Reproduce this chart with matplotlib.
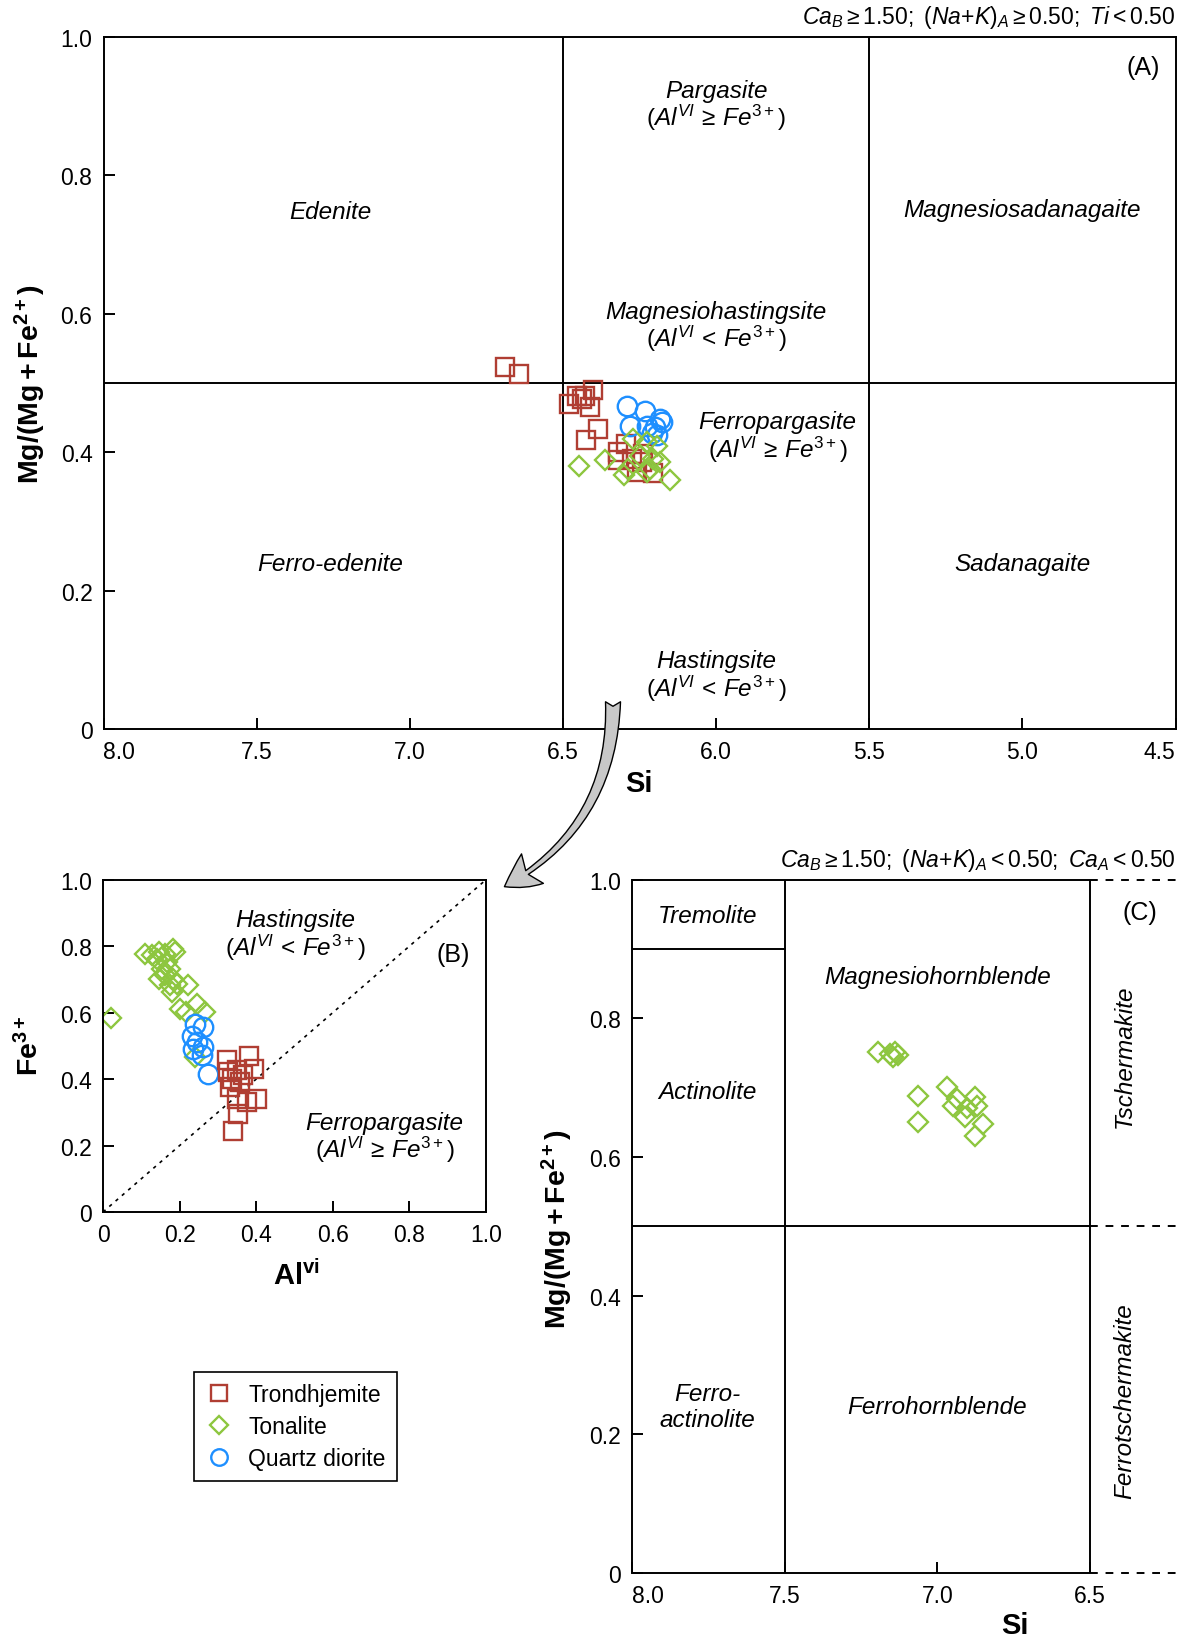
import matplotlib
matplotlib.use('Agg')
import matplotlib.pyplot as plt
from matplotlib.patches import FancyArrowPatch

plt.rcParams['font.family'] = ['Liberation Sans', 'DejaVu Sans']
plt.rcParams['mathtext.fontset'] = 'custom'
plt.rcParams['mathtext.rm'] = 'Liberation Sans'
plt.rcParams['mathtext.it'] = 'Liberation Sans:italic'
plt.rcParams['mathtext.bf'] = 'Liberation Sans:bold'

# ---------------- data ----------------
# Panel A : Si vs Mg/(Mg+Fe2+)
trond_A_si = [6.69, 6.644, 6.455, 6.428, 6.401, 6.48, 6.412, 6.439, 6.385, 6.426,
              6.319, 6.294, 6.319, 6.276, 6.243, 6.259, 6.207, 6.238]
trond_A_mg = [0.523, 0.513, 0.481, 0.481, 0.489, 0.470, 0.465, 0.477, 0.433, 0.417,
              0.400, 0.412, 0.388, 0.390, 0.385, 0.371, 0.370, 0.397]
ton_A_si = [6.447, 6.363, 6.300, 6.151, 6.194, 6.227, 6.248, 6.205, 6.270, 6.216,
            6.183, 6.287, 6.227]
ton_A_mg = [0.380, 0.389, 0.367, 0.359, 0.409, 0.414, 0.395, 0.390, 0.419, 0.376,
            0.385, 0.376, 0.371]
qd_A_si = [6.292, 6.232, 6.281, 6.183, 6.227, 6.200, 6.210, 6.178, 6.194]
qd_A_mg = [0.467, 0.460, 0.437, 0.448, 0.437, 0.436, 0.428, 0.443, 0.424]

# Panel B : Al(VI) vs Fe3+
trond_B_al = [0.325, 0.380, 0.393, 0.327, 0.349, 0.336, 0.366, 0.358, 0.332, 0.349,
              0.401, 0.375, 0.353, 0.340]
trond_B_fe = [0.456, 0.469, 0.431, 0.421, 0.426, 0.401, 0.411, 0.391, 0.376, 0.340,
              0.340, 0.330, 0.295, 0.245]
ton_B_al = [0.020, 0.110, 0.127, 0.145, 0.162, 0.184, 0.188, 0.140, 0.166, 0.153,
            0.175, 0.162, 0.145, 0.184, 0.175, 0.192, 0.223, 0.179, 0.201, 0.245,
            0.266, 0.218, 0.240]
ton_B_fe = [0.583, 0.777, 0.772, 0.782, 0.777, 0.792, 0.782, 0.762, 0.752, 0.732,
            0.732, 0.712, 0.702, 0.702, 0.682, 0.687, 0.682, 0.662, 0.611, 0.627,
            0.601, 0.601, 0.466]
qd_B_al = [0.240, 0.262, 0.245, 0.262, 0.236, 0.258, 0.275, 0.232]
qd_B_fe = [0.566, 0.556, 0.511, 0.496, 0.491, 0.471, 0.416, 0.531]

# Panel C : Si vs Mg/(Mg+Fe2+)
ton_C_si = [7.193, 7.155, 7.138, 7.128, 7.144, 7.064, 7.064, 6.967, 6.950, 6.937,
            6.909, 6.877, 6.871, 6.849, 6.877, 6.904]
ton_C_mg = [0.751, 0.749, 0.751, 0.747, 0.744, 0.688, 0.650, 0.701, 0.673, 0.684,
            0.658, 0.686, 0.674, 0.648, 0.631, 0.670]

series_names = ['Trondhjemite', 'Tonalite', 'Quartz diorite']
si_ticks_A = [8.0, 7.5, 7.0, 6.5, 6.0, 5.5, 5.0, 4.5]
si_ticks_C = [8.0, 7.5, 7.0, 6.5]
frac_ticks = [0, 0.2, 0.4, 0.6, 0.8, 1.0]
frac_labels = ['0', '0.2', '0.4', '0.6', '0.8', '1.0']

RED = '#B03E33'
GREEN = '#8DC63F'
BLUE = '#1E8FFF'

W, H = 1184, 1640
fig = plt.figure(figsize=(W / 100, H / 100), dpi=100)


def ax_at(l, t, r, b):
    return fig.add_axes([l / W, 1 - b / H, (r - l) / W, (b - t) / H])


LW = 1.4
TICK_FS = 16.5
REG_FS = 17.5

sq = dict(marker='s', ms=13, mfc='none', mec=RED, mew=1.7, ls='none')
di = dict(marker='D', ms=10.5, mfc='none', mec=GREEN, mew=1.7, ls='none')
ci = dict(marker='o', ms=14, mfc='none', mec=BLUE, mew=1.7, ls='none')

GE = r'$\mathit{(Al^{VI}\,{\geq}\,Fe^{3+})}$'
LT = r'$\mathit{(Al^{VI}\,{<}\,Fe^{3+})}$'


def style(ax):
    for s in ax.spines.values():
        s.set_linewidth(LW)
    ax.tick_params(direction='in', length=8, width=LW, labelsize=TICK_FS, pad=8)


def label(ax, x, y, txt, **kw):
    ax.text(x, y, txt, style='italic', fontsize=REG_FS, ha='center', va='center', **kw)


def two_line(ax, x, y, l1, l2, sep=19.5):
    ax.annotate(l1, (x, y), xytext=(0, sep / 2), textcoords='offset points',
                style='italic', fontsize=REG_FS, ha='center', va='center')
    ax.annotate(l2, (x, y), xytext=(0, -sep / 2), textcoords='offset points',
                style='italic', fontsize=REG_FS, ha='center', va='center')


# ---------------- Panel A ----------------
axA = ax_at(103.5, 37.7, 1175.6, 730)
style(axA)
axA.set_xlim(8.0, 4.5)
axA.set_ylim(0, 1)
axA.set_xticks(si_ticks_A, ['%.1f' % v for v in si_ticks_A])
axA.set_yticks(frac_ticks, frac_labels)
tk = axA.xaxis.get_major_ticks()
tk[0].label1.set_horizontalalignment('left')
tk[-1].label1.set_horizontalalignment('right')
axA.axvline(6.5, color='black', lw=LW)
axA.axvline(5.5, color='black', lw=LW)
axA.axhline(0.5, color='black', lw=LW)
axA.plot(trond_A_si, trond_A_mg, **sq)
axA.plot(qd_A_si, qd_A_mg, **ci)
axA.plot(ton_A_si, ton_A_mg, **di)

label(axA, 7.26, 0.747, 'Edenite')
label(axA, 7.26, 0.239, 'Ferro-edenite')
two_line(axA, 6.0, 0.903, 'Pargasite', GE)
two_line(axA, 6.0, 0.584, 'Magnesiohastingsite', LT)
two_line(axA, 5.80, 0.424, 'Ferropargasite', GE)
two_line(axA, 6.0, 0.079, 'Hastingsite', LT)
label(axA, 5.0, 0.750, 'Magnesiosadanagaite')
label(axA, 5.0, 0.239, 'Sadanagaite')
axA.text(4.606, 0.956, '(A)', fontsize=18, ha='center', va='center')
axA.text(1.0, 1.01, r'$\mathit{Ca_{B}{\geq}1.50;\ (Na{+}K)_{A}{\geq}0.50;\ Ti{<}0.50}$',
         transform=axA.transAxes, ha='right', va='bottom', fontsize=16.5)

fig.text(639 / W, 1 - 784 / H, 'Si', fontsize=21, fontweight='bold', ha='center', va='center')
fig.text(30 / W, 1 - 384 / H, r'$\mathbf{Mg/(Mg+Fe^{2+})}$', fontsize=20.5, rotation=90,
         ha='center', va='center')

# ---------------- Panel B ----------------
axB = ax_at(103, 880.7, 486, 1213)
style(axB)
axB.set_xlim(0, 1)
axB.set_ylim(0, 1)
axB.set_xticks(frac_ticks, frac_labels)
axB.set_yticks(frac_ticks, frac_labels)
axB.plot([0, 1], [0, 1], color='black', lw=1.2, ls=(0, (2, 3)))
axB.plot(ton_B_al, ton_B_fe, **di)
axB.plot(qd_B_al, qd_B_fe, **ci)
axB.plot(trond_B_al, trond_B_fe, **sq)
two_line(axB, 0.503, 0.84, 'Hastingsite', LT)
two_line(axB, 0.735, 0.23, 'Ferropargasite', GE)
axB.text(0.915, 0.777, '(B)', fontsize=18, ha='center', va='center')
fig.text(296 / W, 1 - 1276 / H, r'$\mathbf{Al^{vi}}$', fontsize=21, ha='center', va='center')
fig.text(30 / W, 1 - 1046 / H, r'$\mathbf{Fe^{3+}}$', fontsize=20.5, rotation=90,
         ha='center', va='center')

# ---------------- Panel C ----------------
axC = ax_at(631.8, 880.7, 1175.6, 1574)
style(axC)
axC.set_xlim(8.0, 6.22)
axC.set_ylim(0, 1)
axC.set_xticks(si_ticks_C, ['%.1f' % v for v in si_ticks_C])
axC.set_yticks(frac_ticks, frac_labels)
axC.xaxis.get_major_ticks()[0].label1.set_horizontalalignment('left')
for s in ['top', 'right', 'bottom']:
    axC.spines[s].set_visible(False)
for yv in [0.0, 0.5, 1.0]:
    axC.plot([8.0, 6.5], [yv, yv], color='black', lw=LW, clip_on=False, solid_capstyle='butt')
    axC.plot([6.5, 6.22], [yv, yv], color='black', lw=LW, ls=(0, (4, 4)), clip_on=False)
axC.plot([7.5, 7.5], [0, 1], color='black', lw=LW)
axC.plot([6.5, 6.5], [0, 1], color='black', lw=LW)
axC.plot([8.0, 7.5], [0.9, 0.9], color='black', lw=LW)
axC.plot(ton_C_si, ton_C_mg, **di)
label(axC, 7.753, 0.949, 'Tremolite')
label(axC, 7.753, 0.694, 'Actinolite')
two_line(axC, 7.753, 0.24, 'Ferro-', 'actinolite', sep=18.5)
label(axC, 7.0, 0.86, 'Magnesiohornblende')
label(axC, 7.0, 0.24, 'Ferrohornblende')
label(axC, 6.387, 0.747, 'Tschermakite', rotation=90)
label(axC, 6.387, 0.249, 'Ferrotschermakite', rotation=90)
axC.text(6.336, 0.953, '(C)', fontsize=18, ha='center', va='center')
axC.text(1.0, 1.01, r'$\mathit{Ca_{B}{\geq}1.50;\ (Na{+}K)_{A}{<}0.50;\ Ca_{A}{<}0.50}$',
         transform=axC.transAxes, ha='right', va='bottom', fontsize=16.5)
fig.text(1014.6 / W, 1 - 1626.5 / H, 'Si', fontsize=21, fontweight='bold', ha='center', va='center')
fig.text(557.5 / W, 1 - 1229 / H, r'$\mathbf{Mg/(Mg+Fe^{2+})}$', fontsize=20.5, rotation=90,
         ha='center', va='center')

# ---------------- Legend ----------------
handles = [plt.Line2D([], [], **sq), plt.Line2D([], [], **di), plt.Line2D([], [], **ci)]
leg = fig.legend(handles, series_names, loc='upper left',
                 bbox_to_anchor=(193.5 / W, 1 - 1373 / H), fontsize=16.5,
                 frameon=True, fancybox=False, edgecolor='black', framealpha=1,
                 handletextpad=0.7, borderpad=0.5, labelspacing=0.38, handlelength=1.2,
                 markerscale=0.85, borderaxespad=0)
leg.get_frame().set_linewidth(1.2)

# ---------------- Arrow ----------------
arrow = FancyArrowPatch(posA=(613 / W, 1 - 700 / H), posB=(502 / W, 1 - 889 / H),
                        transform=fig.transFigure, connectionstyle='arc3,rad=-0.3',
                        arrowstyle='fancy,head_length=1.0,head_width=1.1,tail_width=0.45',
                        mutation_scale=24, fc='#c8c8c8', ec='black', lw=1.0)
fig.add_artist(arrow)

fig.savefig('out.png', dpi=100)
